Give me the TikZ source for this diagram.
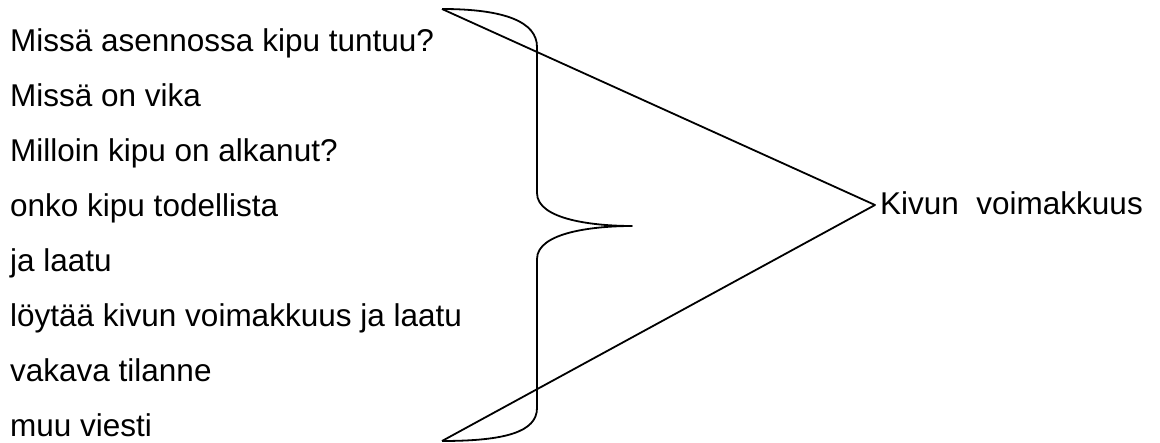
\documentclass[tikz,border=0pt]{standalone}
\usepackage{fontspec}
\setmainfont{Liberation Sans}
\begin{document}
\begin{tikzpicture}[x=1pt,y=-1pt,
  lbl/.style={anchor=base west,inner sep=0pt,font=\fontsize{31.5}{38}\selectfont},
  ln/.style={line width=1.8pt,line join=round}]
\useasboundingbox (0,0) rectangle (1160,443);
\foreach \t [count=\i] in {Missä asennossa kipu tuntuu?,Missä on vika,Milloin kipu on alkanut?,onko kipu todellista,ja laatu,löytää kivun voimakkuus ja laatu,vakava tilanne,muu viesti}
  \node[lbl] (l\i) at (10,{52+(\i-1)*55}) {\t};
\node[lbl] (kv) at (880,215) {Kivun\ \ voimakkuus};
\coordinate (top) at (442,9);
\coordinate (bot) at (442,441);
\coordinate (mid) at (632,226);
\coordinate (apex) at (875,205);
\coordinate (b1) at (537,47);
\coordinate (b2) at (537,193);
\coordinate (b3) at (537,259);
\coordinate (b4) at (537,408);
\draw[ln] (top) .. controls (505,9) and (537,22) .. (b1) -- (b2)
  .. controls (537,220) and (595,226) .. (mid)
  .. controls (595,226) and (537,232) .. (b3) -- (b4)
  .. controls (537,432) and (505,441) .. (bot);
\draw[ln] (top) -- (apex) -- (bot);
\end{tikzpicture}
\end{document}
